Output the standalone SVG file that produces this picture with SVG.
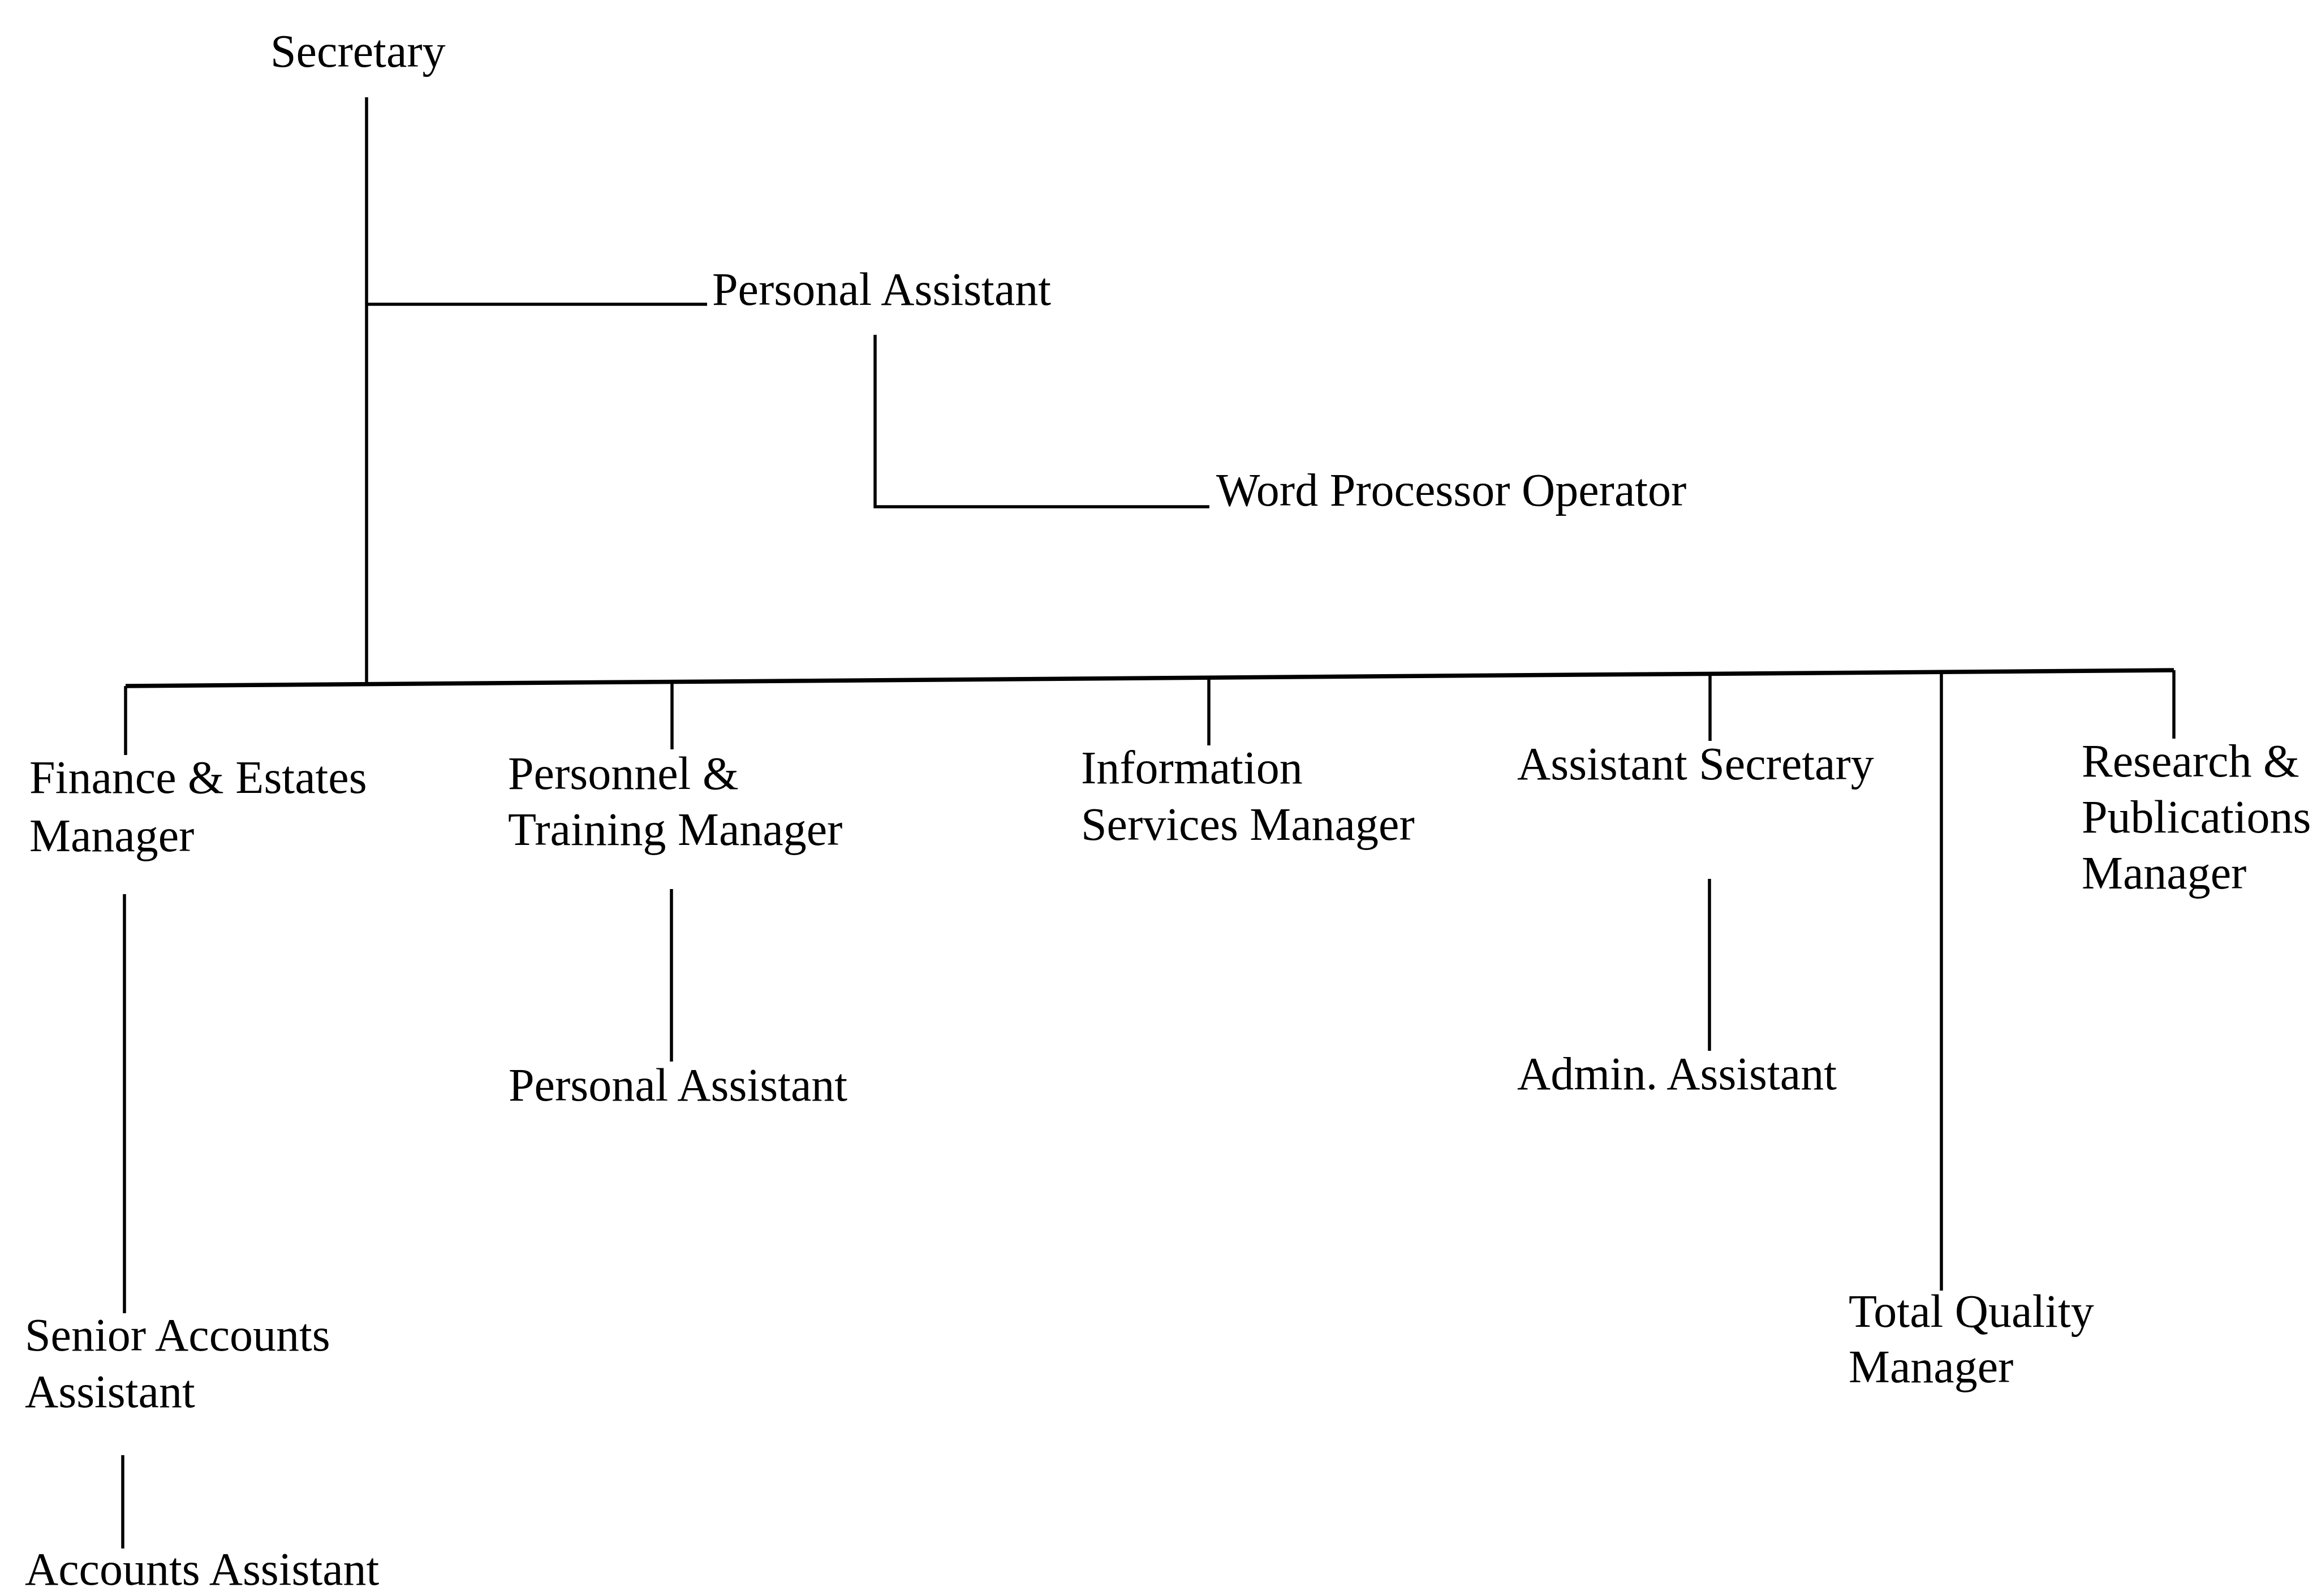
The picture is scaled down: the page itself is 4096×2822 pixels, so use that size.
<svg xmlns="http://www.w3.org/2000/svg" width="4096" height="2822" viewBox="0 0 4096 2822">
  <style>
    .lbl { font-family: "Liberation Serif", "Times New Roman", serif; font-size: 82px; fill: #000; }
    .ln { stroke: #000; stroke-width: 5.5; fill: none; stroke-linecap: butt; }
    .bus { stroke-width: 7.5; }
  </style>
  <rect x="0" y="0" width="4096" height="2822" fill="#fff"/>

  <!-- reporting lines -->
  <g id="connectors">
    <!-- Secretary trunk down to the department bus -->
    <path class="ln" d="M648 172 V1210"/>
    <!-- Secretary to Personal Assistant -->
    <path class="ln" d="M648 538 H1250"/>
    <!-- Personal Assistant to Word Processor Operator -->
    <path class="ln" d="M1547 592 V896 H2138"/>
    <!-- department bus (slightly skewed) -->
    <path class="ln bus" d="M222 1213 L3843 1185"/>
    <!-- drops from the bus -->
    <path class="ln" d="M222 1213 V1335"/>
    <path class="ln" d="M1188 1205.5 V1325"/>
    <path class="ln" d="M2137 1198.2 V1318"/>
    <path class="ln" d="M3023 1191.3 V1310"/>
    <path class="ln" d="M3432 1188.2 V2282"/>
    <path class="ln" d="M3843 1185 V1306"/>
    <!-- second-level lines -->
    <path class="ln" d="M220 1581 V2322"/>
    <path class="ln" d="M217 2573 V2738"/>
    <path class="ln" d="M1187 1572 V1877"/>
    <path class="ln" d="M3022 1554 V1858"/>
  </g>

  <g id="secretary"><text class="lbl" x="478" y="118">Secretary</text></g>
  <g id="personal-assistant"><text class="lbl" x="1259" y="539">Personal Assistant</text></g>
  <g id="word-processor-operator"><text class="lbl" x="2150" y="894">Word Processor Operator</text></g>

  <g id="finance-estates-manager">
    <text class="lbl" x="52" y="1402">Finance &amp; Estates</text>
    <text class="lbl" x="52" y="1505">Manager</text>
  </g>
  <g id="personnel-training-manager">
    <text class="lbl" x="898" y="1395">Personnel &amp;</text>
    <text class="lbl" x="898" y="1494">Training Manager</text>
  </g>
  <g id="information-services-manager">
    <text class="lbl" x="1911" y="1385">Information</text>
    <text class="lbl" x="1911" y="1485">Services Manager</text>
  </g>
  <g id="assistant-secretary"><text class="lbl" x="2682" y="1378">Assistant Secretary</text></g>
  <g id="research-publications-manager">
    <text class="lbl" x="3680" y="1373">Research &amp;</text>
    <text class="lbl" x="3680" y="1472">Publications</text>
    <text class="lbl" x="3680" y="1571">Manager</text>
  </g>

  <g id="senior-accounts-assistant">
    <text class="lbl" x="44" y="2388">Senior Accounts</text>
    <text class="lbl" x="44" y="2488">Assistant</text>
  </g>
  <g id="accounts-assistant"><text class="lbl" x="44" y="2802">Accounts Assistant</text></g>
  <g id="personnel-personal-assistant"><text class="lbl" x="899" y="1946">Personal Assistant</text></g>
  <g id="admin-assistant"><text class="lbl" x="2682" y="1926">Admin. Assistant</text></g>
  <g id="total-quality-manager">
    <text class="lbl" x="3268" y="2346">Total Quality</text>
    <text class="lbl" x="3268" y="2444">Manager</text>
  </g>
</svg>
